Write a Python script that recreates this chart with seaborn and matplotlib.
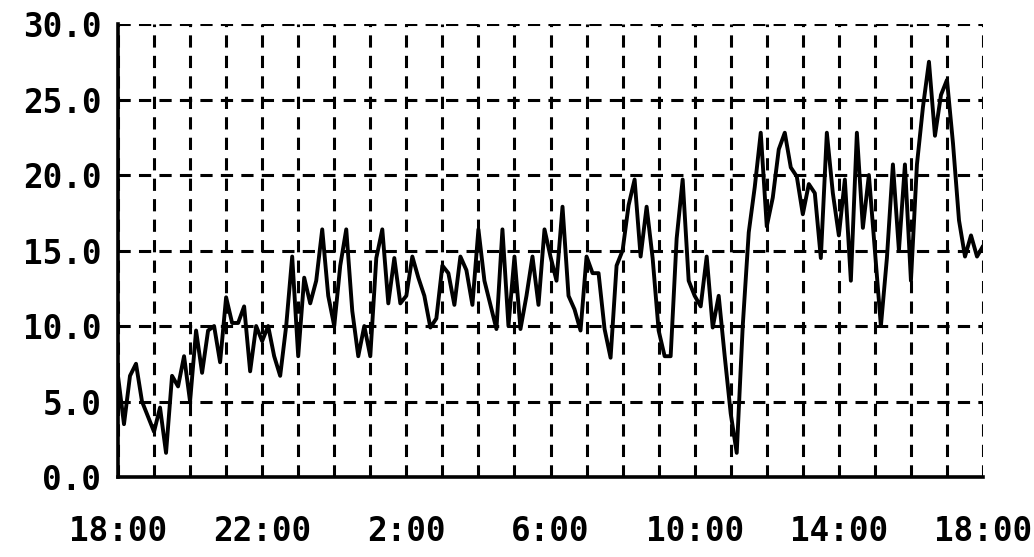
import numpy as np
import matplotlib
matplotlib.use("Agg")
import matplotlib.pyplot as plt
import seaborn as sns

# readings every 10 minutes, 18:00 -> 18:00 next day
MINUTES = np.arange(0, 1441, 10)
VALUES = [
    6.7, 3.5, 6.7, 7.5, 5.0, 4.0,        # 18:00
    3.0, 4.6, 1.6, 6.7, 6.0, 8.0,        # 19:00
    5.0, 9.7, 6.9, 9.7, 10.0, 7.6,       # 20:00
    11.9, 10.2, 10.2, 11.3, 7.0, 10.0,   # 21:00
    9.0, 10.0, 8.0, 6.7, 10.0, 14.6,     # 22:00
    8.0, 13.2, 11.5, 13.0, 16.4, 12.0,   # 23:00
    10.0, 14.0, 16.4, 11.0, 8.0, 10.0,   # 0:00
    8.0, 14.5, 16.4, 11.5, 14.5, 11.5,   # 1:00
    12.0, 14.6, 13.2, 12.0, 9.9, 10.5,   # 2:00
    14.0, 13.5, 11.4, 14.6, 13.7, 11.4,  # 3:00
    16.4, 13.0, 11.4, 9.8, 16.4, 10.0,   # 4:00
    14.6, 9.8, 12.0, 14.6, 11.4, 16.4,   # 5:00
    14.6, 13.0, 17.9, 12.0, 11.1, 9.7,   # 6:00
    14.6, 13.5, 13.5, 9.8, 7.9, 14.0,    # 7:00
    15.0, 18.0, 19.7, 14.6, 17.9, 14.5,  # 8:00
    9.7, 8.0, 8.0, 15.8, 19.7, 13.0,     # 9:00
    12.0, 11.3, 14.6, 9.9, 12.0, 8.0,    # 10:00
    4.2, 1.6, 10.0, 16.2, 19.2, 22.8,    # 11:00
    16.6, 18.5, 21.7, 22.8, 20.5, 19.9,  # 12:00
    17.4, 19.4, 18.8, 14.5, 22.8, 18.8,  # 13:00
    16.0, 19.7, 13.0, 22.8, 16.5, 20.0,  # 14:00
    15.0, 10.0, 14.5, 20.7, 15.0, 20.7,  # 15:00
    13.0, 20.7, 24.5, 27.5, 22.6, 25.3,  # 16:00
    26.3, 22.1, 17.0, 14.6, 16.0, 14.6,  # 17:00
    15.3,                                # 18:00
]
XTICK_HOURS = [0, 4, 8, 12, 16, 20, 24]
XTICK_LABELS = ["18:00", "22:00", "2:00", "6:00", "10:00", "14:00", "18:00"]
YTICKS = [0, 5, 10, 15, 20, 25, 30]

sns.set_style("white")
plt.rcParams["font.family"] = ["DejaVu Sans Mono", "DejaVu Sans"]
plt.rcParams["font.weight"] = "bold"

fig = plt.figure(figsize=(10.34, 5.57), dpi=100)
ax = fig.add_axes([0.1141, 0.1436, 0.8366, 0.8133])

hours = MINUTES / 60.0
sns.lineplot(x=hours, y=VALUES, color="black", linewidth=2.8, ax=ax)

ax.set_xlim(0, 24)
ax.set_ylim(0, 30)
ax.set_xticks(XTICK_HOURS)
ax.set_xticklabels(XTICK_LABELS)
ax.set_xticks(range(0, 25), minor=True)
ax.set_yticks(YTICKS)
ax.set_yticklabels([f"{v:.1f}" for v in YTICKS])

grid_kw = dict(color="black", linewidth=2.2, linestyle=(0, (4, 2.7)))
ax.grid(True, which="both", axis="x", **grid_kw)
ax.grid(True, which="major", axis="y", **grid_kw)
ax.set_axisbelow(True)

for side in ("top", "right"):
    ax.spines[side].set_visible(False)
for side in ("left", "bottom"):
    ax.spines[side].set_color("black")
    ax.spines[side].set_linewidth(2.6)

ax.tick_params(axis="x", which="major", direction="out", length=16,
               width=2.6, color="black", labelsize=23.5, pad=11)
ax.tick_params(axis="x", which="minor", length=0)
ax.tick_params(axis="y", which="major", direction="out", length=8,
               width=2.6, color="black", labelsize=23.5, pad=4)
for lab in ax.get_xticklabels() + ax.get_yticklabels():
    lab.set_color("black")
    lab.set_fontweight("bold")

ax.set_xlabel("")
ax.set_ylabel("")
fig.savefig("out.png", dpi=100, facecolor="white")
